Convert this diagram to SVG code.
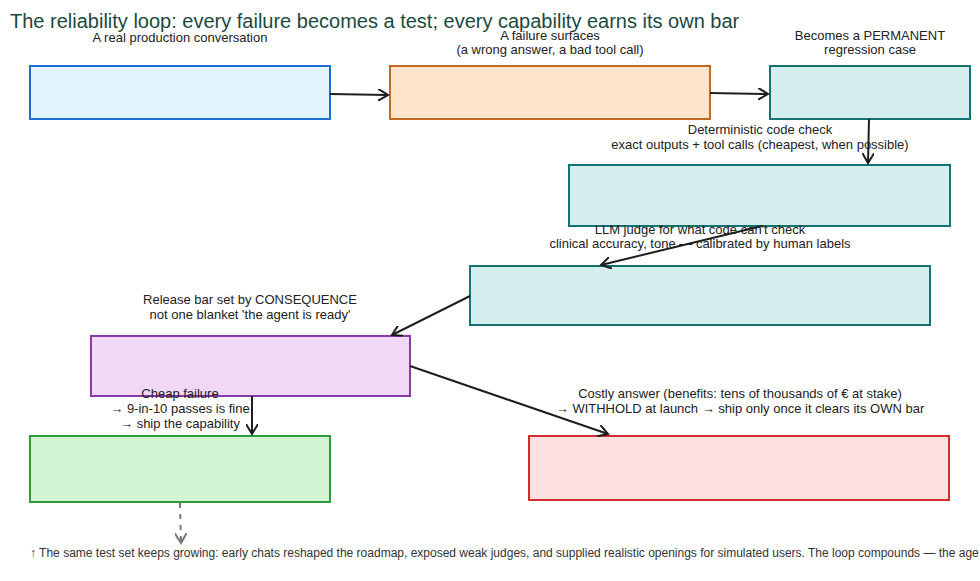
<svg xmlns="http://www.w3.org/2000/svg" width="980" height="581" viewBox="0 0 980 581">
<style>
text{font-family:"Liberation Sans",Arial,sans-serif;font-size:13px;fill:#222;text-anchor:middle}
.b{stroke-width:2}
.c{stroke:#1e1e1e;stroke-width:2;fill:none}
</style>
<defs><marker id="a" markerWidth="12" markerHeight="12" refX="10" refY="6" orient="auto" markerUnits="userSpaceOnUse"><path d="M0,0 L10,6 L0,12" fill="none" stroke="#1e1e1e" stroke-width="2"/></marker>
<marker id="g" markerWidth="12" markerHeight="12" refX="10" refY="6" orient="auto" markerUnits="userSpaceOnUse"><path d="M0,0 L10,6 L0,12" fill="none" stroke="#777" stroke-width="2"/></marker></defs>
<rect width="980" height="581" fill="#fff"/>
<text x="10" y="28" style="font-size:20px;fill:#1a4a3f;text-anchor:start">The reliability loop: every failure becomes a test; every capability earns its own bar</text>
<g id="n1"><rect class="b" x="30" y="66" width="300" height="53" fill="#e3f3fb" stroke="#1c6fd0"/><text x="180" y="42">A real production conversation</text></g>
<g id="n2"><rect class="b" x="390" y="66" width="320" height="53" fill="#fde5cc" stroke="#c06a20"/><text x="550" y="40">A failure surfaces</text><text x="550" y="54">(a wrong answer, a bad tool call)</text></g>
<g id="n3"><rect class="b" x="770" y="66" width="200" height="53" fill="#d4efee" stroke="#137373"/><text x="870" y="40">Becomes a PERMANENT</text><text x="870" y="54">regression case</text></g>
<g id="n4"><rect class="b" x="569" y="165" width="381" height="61" fill="#d4efee" stroke="#137373"/><text x="760" y="134">Deterministic code check</text><text x="760" y="149">exact outputs + tool calls (cheapest, when possible)</text></g>
<g id="n5"><rect class="b" x="470" y="266" width="460" height="59" fill="#d4efee" stroke="#137373"/><text x="700" y="234">LLM judge for what code can't check</text><text x="700" y="248">clinical accuracy, tone — calibrated by human labels</text></g>
<g id="n6"><rect class="b" x="91" y="336" width="319" height="60" fill="#f1d8f6" stroke="#8a3aa8"/><text x="250" y="304">Release bar set by CONSEQUENCE</text><text x="250" y="319">not one blanket 'the agent is ready'</text></g>
<g id="n7"><rect class="b" x="30" y="436" width="300" height="66" fill="#d4f5d4" stroke="#2f9a3e"/><text x="180" y="398">Cheap failure</text><text x="180" y="413">→ 9-in-10 passes is fine</text><text x="180" y="428">→ ship the capability</text></g>
<g id="n8"><rect class="b" x="529" y="436" width="420" height="64" fill="#fde0e0" stroke="#d02e2e"/><text x="740" y="398">Costly answer (benefits: tens of thousands of € at stake)</text><text x="740" y="413">→ WITHHOLD at launch → ship only once it clears its OWN bar</text></g>
<g id="connectors">
<path class="c" d="M330,94 L388,95" marker-end="url(#a)"/>
<path class="c" d="M710,93 L768,94" marker-end="url(#a)"/>
<path class="c" d="M869,119 L868,163" marker-end="url(#a)"/>
<path class="c" d="M762,226 L601,265" marker-end="url(#a)"/>
<path class="c" d="M470,296 L392,335" marker-end="url(#a)"/>
<path class="c" d="M252,396 L252,434" marker-end="url(#a)"/>
<path class="c" d="M410,366 L608,434" marker-end="url(#a)"/>
<path d="M180,503 L181,543" stroke="#777" stroke-width="2" fill="none" stroke-dasharray="5,6" marker-end="url(#g)"/>
</g>
<text x="30" y="557" style="font-size:12px;text-anchor:start;fill:#333">↑ The same test set keeps growing: early chats reshaped the roadmap, exposed weak judges, and supplied realistic openings for simulated users. The loop compounds — the age</text>
</svg>
